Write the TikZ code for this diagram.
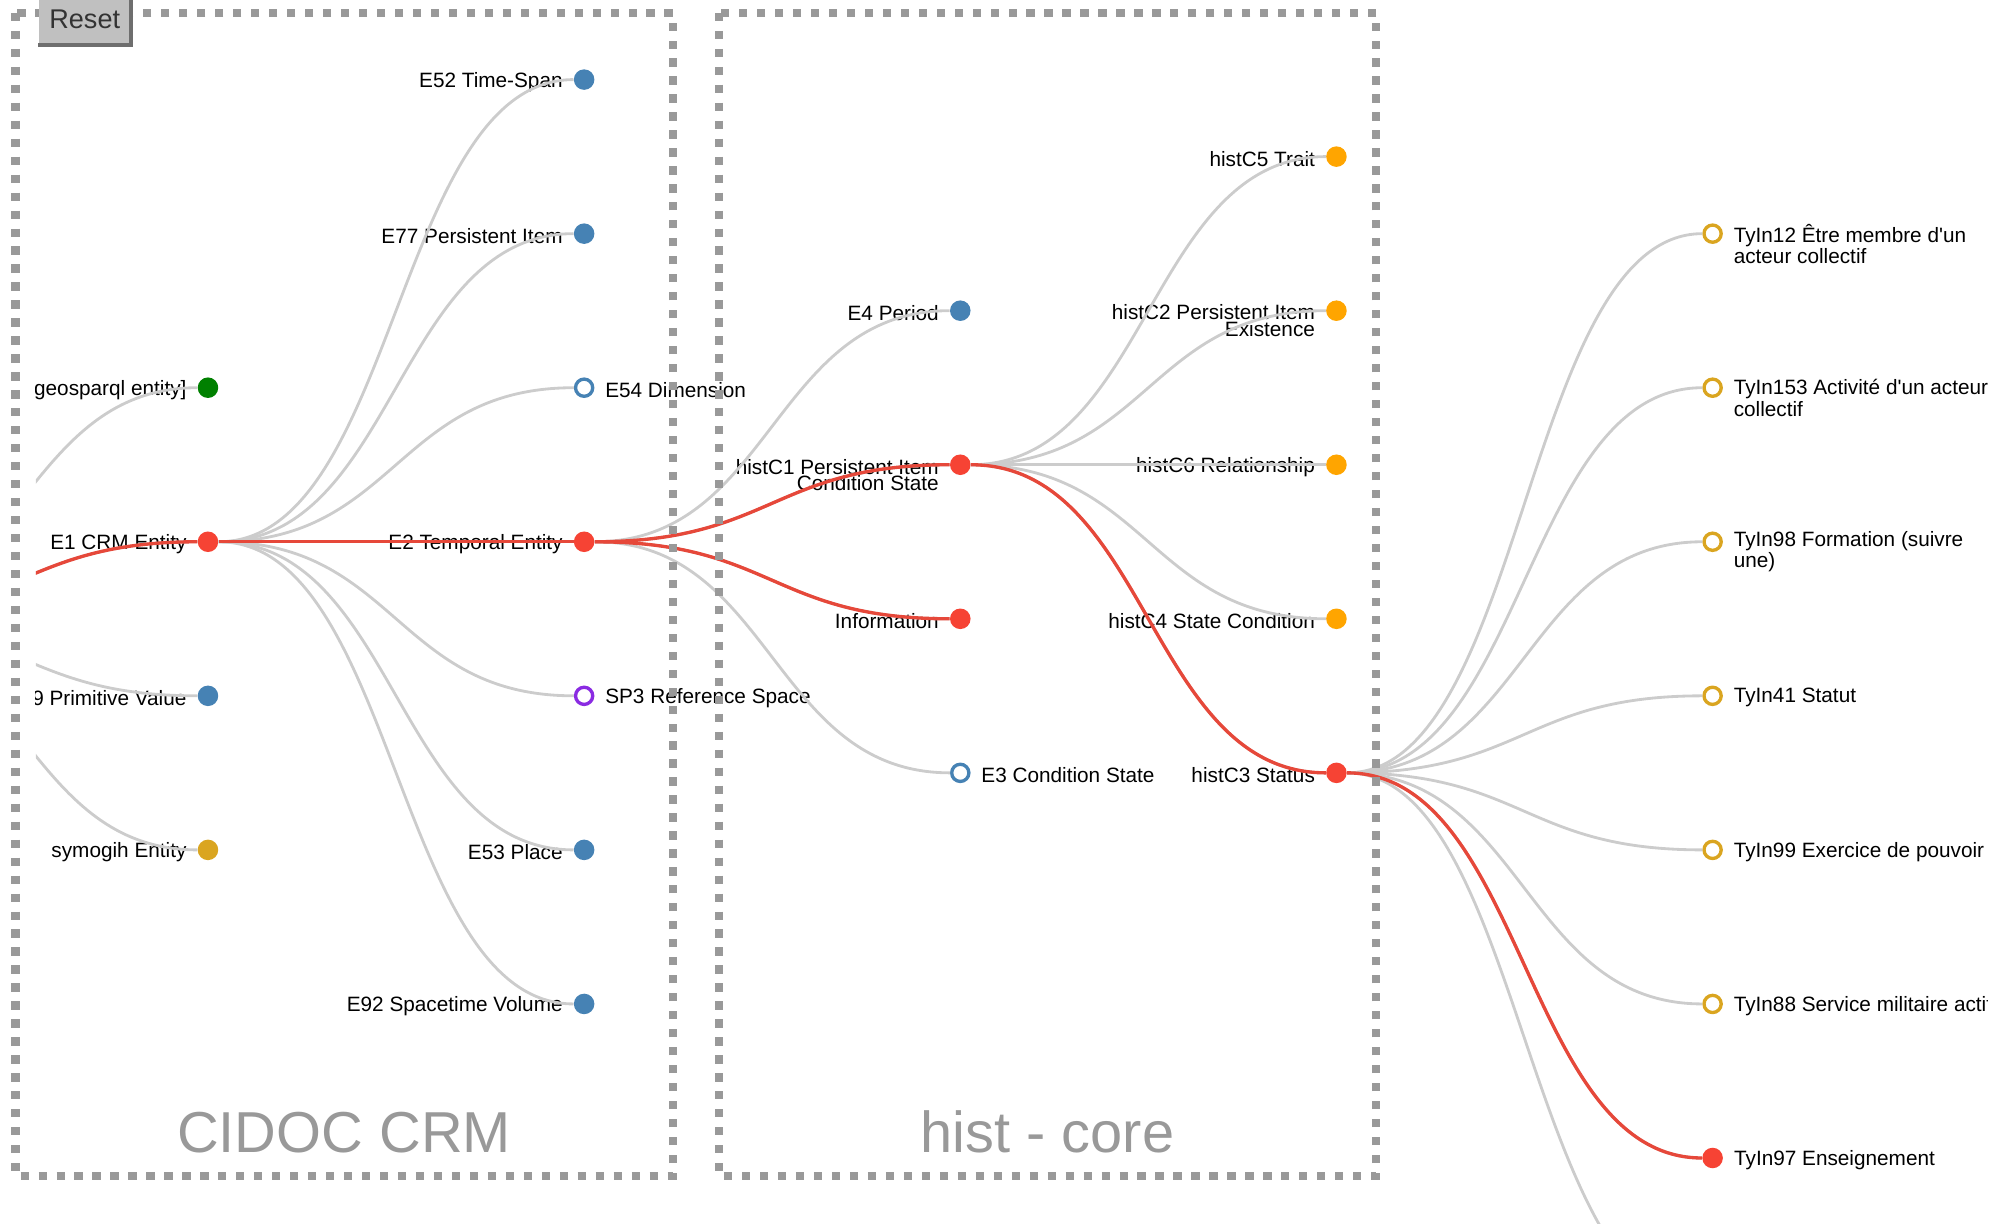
\documentclass[tikz,border=0pt]{standalone}
\usepackage{fontspec}
\setmainfont{Liberation Sans}
\usetikzlibrary{math}

\definecolor{linkgray}{RGB}{204,204,204}
\definecolor{linkred}{RGB}{230,72,58}
\definecolor{nodered}{RGB}{246,67,52}
\definecolor{nodeblue}{RGB}{70,130,180}
\definecolor{nodeorange}{RGB}{255,165,0}
\definecolor{nodegreen}{RGB}{0,128,0}
\definecolor{nodegold}{RGB}{218,165,32}
\definecolor{nodepurple}{RGB}{138,43,226}
\definecolor{boxgray}{RGB}{153,153,153}
\definecolor{btnfill}{RGB}{192,192,192}
\definecolor{btnedge}{RGB}{110,110,110}

\tikzset{
  lbl/.style={font=\fontsize{11.5}{9.3}\selectfont, inner sep=0pt, text=black, yshift=-0.4mm},
  dot/.style={circle, inner sep=0pt, minimum size=4mm, fill=#1},
  ring/.style={circle, inner sep=0pt, minimum size=3.35mm, draw=#1, line width=0.65mm, fill=white},
  twoline/.style={yshift=-1.6mm, align=#1},
  link/.style={draw=linkgray, line width=0.55mm},
  hot/.style={draw=linkred, line width=0.65mm},
  diag/.style={to path={.. controls +(\hw,0) and +(-\hw,0) .. (\tikztotarget)}},
  frame/.style={draw=boxgray, line width=1.6mm, dash pattern=on 1.6mm off 1.9mm},
  boxtitle/.style={font=\fontsize{32}{38}\selectfont, text=boxgray, anchor=base},
  btn/.style={fill=btnfill, minimum width=18mm, minimum height=10mm, inner sep=0pt,
    font=\fontsize{15}{17}\selectfont, text=black!80}
}

\begin{document}
\begin{tikzpicture}[x=0.25mm, y=-0.25mm, every label/.style={lbl}, label distance=2.05mm]
\tikzmath{
\hw=146.5;
}
\useasboundingbox (0,0) rectangle (1568,953);

\begin{scope}
\clip (28,0) rectangle (1548,953);

\coordinate (root) at (-131,482);

\node[dot=nodegreen, label={left:{[geosparql entity]}}] (geo) at (162,302) {};
\node[dot=nodered, label=left:E1 CRM Entity] (e1) at (162,422) {};
\node[dot=nodeblue, label=left:E59 Primitive Value] (e59) at (162,542) {};
\node[dot=nodegold, label=left:symogih Entity] (symo) at (162,662) {};

\node[dot=nodeblue, label=left:E52 Time-Span] (e52) at (455,62) {};
\node[dot=nodeblue, label=left:E77 Persistent Item] (e77) at (455,182) {};
\node[ring=nodeblue, label=right:E54 Dimension] (e54) at (455,302) {};
\node[dot=nodered, label=left:E2 Temporal Entity] (e2) at (455,422) {};
\node[ring=nodepurple, label=right:SP3 Reference Space] (sp3) at (455,542) {};
\node[dot=nodeblue, label=left:E53 Place] (e53) at (455,662) {};
\node[dot=nodeblue, label=left:E92 Spacetime Volume] (e92) at (455,782) {};

\node[dot=nodeblue, label=left:E4 Period] (e4) at (748,242) {};
\node[dot=nodered, label={[twoline=right]left:histC1 Persistent Item\\Condition State}] (hc1) at (748,362) {};
\node[dot=nodered, label=left:Information] (info) at (748,482) {};
\node[ring=nodeblue, label=right:E3 Condition State] (e3) at (748,602) {};

\node[dot=nodeorange, label=left:histC5 Trait] (hc5) at (1041,122) {};
\node[dot=nodeorange, label={[twoline=right]left:histC2 Persistent Item\\Existence}] (hc2) at (1041,242) {};
\node[dot=nodeorange, label=left:histC6 Relationship] (hc6) at (1041,362) {};
\node[dot=nodeorange, label=left:histC4 State Condition] (hc4) at (1041,482) {};
\node[dot=nodered, label=left:histC3 Status] (hc3) at (1041,602) {};

\node[ring=nodegold, label={[twoline=left]right:TyIn12 Être membre d\textquotesingle un\\acteur collectif}] (ty12) at (1334,182) {};
\node[ring=nodegold, label={[twoline=left]right:TyIn153 Activité d\textquotesingle un acteur\\collectif}] (ty153) at (1334,302) {};
\node[ring=nodegold, label={[twoline=left]right:TyIn98 Formation (suivre\\une)}] (ty98) at (1334,422) {};
\node[ring=nodegold, label=right:TyIn41 Statut] (ty41) at (1334,542) {};
\node[ring=nodegold, label=right:TyIn99 Exercice de pouvoir] (ty99) at (1334,662) {};
\node[ring=nodegold, label=right:TyIn88 Service militaire actif] (ty88) at (1334,782) {};
\node[dot=nodered, label=right:TyIn97 Enseignement] (ty97) at (1334,902) {};
\coordinate (tynext) at (1334,1022);

\foreach \t in {geo,e1,e59,symo} \draw[link] (root) to[diag] (\t);
\foreach \t in {e52,e77,e54,e2,sp3,e53,e92} \draw[link] (e1) to[diag] (\t);
\foreach \t in {e4,hc1,info,e3} \draw[link] (e2) to[diag] (\t);
\foreach \t in {hc5,hc2,hc6,hc4,hc3} \draw[link] (hc1) to[diag] (\t);
\foreach \t in {ty12,ty153,ty98,ty41,ty99,ty88,ty97,tynext} \draw[link] (hc3) to[diag] (\t);

\foreach \s/\t in {root/e1,e1/e2,e2/hc1,e2/info,hc1/hc3,hc3/ty97}
  \draw[hot] (\s) to[diag] (\t);
\end{scope}

\draw[frame] (12,10) rectangle (524,916);
\draw[frame] (560,10) rectangle (1072,916);
\node[boxtitle] (crmtitle) at (268,898) {CIDOC CRM};
\node[boxtitle] (histtitle) at (816,898) {hist - core};

\node[btn] (reset) at (66,15) {Reset};
\draw[btnedge, line width=0.75mm] (reset.north east) -- (reset.south east) -- (reset.south west);

\end{tikzpicture}
\end{document}
